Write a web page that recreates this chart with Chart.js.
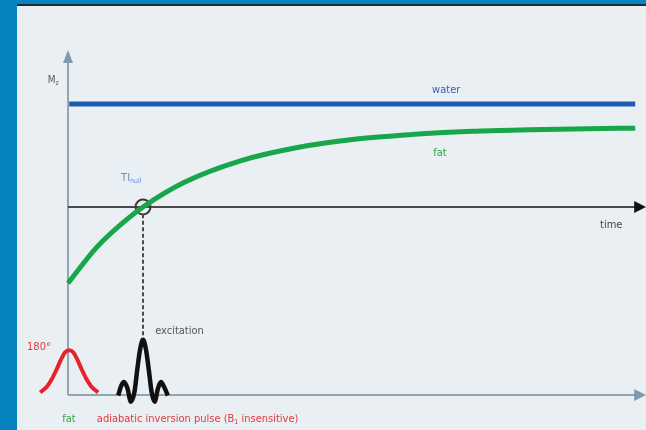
<!DOCTYPE html>
<html>
<head>
<meta charset="utf-8">
<script src="https://cdn.jsdelivr.net/npm/chart.js@4.4.1/dist/chart.umd.min.js"></script>
<style>
  html, body { margin: 0; padding: 0; }
  body { width: 646px; height: 430px; background: #0584c0; position: relative; overflow: hidden; }
  #panel { position: absolute; left: 17px; top: 4px; width: 629px; height: 426px;
           background: #eaeff4; border-top: 2px solid #1d2c3a; }
  #wrap { position: absolute; left: 0; top: 0; width: 629px; height: 424px; }
</style>
</head>
<body>
<div id="panel"><div id="wrap"><canvas id="grafica"></canvas></div></div>
<script>
// Datos (unidades arbitrarias: tiempo en x, magnetización Mz en y)
const waterT  = [0.2, 98.3];
const waterMz = [1, 1];

const fatT  = [0, 5, 10, 13, 20, 30, 40, 50, 60, 70, 80, 90, 98.3];
const fatMz = [-0.74, -0.39, -0.13, 0, 0.235, 0.45, 0.58, 0.66, 0.705, 0.735, 0.75, 0.76, 0.765];

// pulso de inversión adiabático (rojo)
const invT   = [-4.8, -3.6, -2.8, -2.0, -1.2, -0.5, 0.2, 0.9, 1.6, 2.4, 3.2, 4.0, 5.2];
const invAmp = [-1.80, -1.74, -1.67, -1.58, -1.48, -1.41, -1.39, -1.41, -1.48, -1.58, -1.67, -1.74, -1.80];

// pulso de excitación (negro)
const excT   = [8.7, 9.2, 9.7, 10.3, 10.9, 11.5, 12.0, 12.5, 13.0, 13.5, 14.0, 14.5, 15.0, 15.6, 16.1, 16.6, 17.3];
const excAmp = [-1.83, -1.74, -1.70, -1.76, -1.89, -1.80, -1.58, -1.38, -1.29, -1.38, -1.58, -1.80, -1.89, -1.76, -1.70, -1.74, -1.83];

const tiNull = 13;        // cruce de la grasa con cero
const dashEnd = -1.25;    // fin de la línea punteada
const baseLine = -1.825;  // eje inferior
const axisTop = 1.524;
const timeEnd = 100.2;

const pts = (xs, ys) => xs.map((x, i) => ({ x: x, y: ys[i] }));

const fuente = '"Liberation Sans Narrow", "DejaVu Sans Condensed", sans-serif';

const decor = {
    id: 'decor',
    beforeDatasetsDraw(chart) {
        const { ctx, scales: { x, y } } = chart;
        const x0 = x.getPixelForValue(0);
        ctx.save();
        // ejes gris azulado
        ctx.strokeStyle = '#8ea6b6';
        ctx.lineWidth = 2;
        ctx.beginPath();
        ctx.moveTo(x0, y.getPixelForValue(baseLine));
        ctx.lineTo(x0, y.getPixelForValue(axisTop) + 8);
        ctx.moveTo(x0, y.getPixelForValue(baseLine));
        ctx.lineTo(x.getPixelForValue(timeEnd) - 8, y.getPixelForValue(baseLine));
        ctx.stroke();
        // eje del tiempo
        ctx.strokeStyle = '#4a4a4a';
        ctx.beginPath();
        ctx.moveTo(x0, y.getPixelForValue(0));
        ctx.lineTo(x.getPixelForValue(timeEnd) - 8, y.getPixelForValue(0));
        ctx.stroke();
        ctx.restore();
    },
    afterDatasetsDraw(chart) {
        const { ctx, scales: { x, y } } = chart;
        const x0 = x.getPixelForValue(0);
        const xe = x.getPixelForValue(timeEnd);
        ctx.save();
        // flechas
        ctx.fillStyle = '#7f9aab';
        let ty = y.getPixelForValue(axisTop);
        ctx.beginPath();
        ctx.moveTo(x0, ty); ctx.lineTo(x0 - 5, ty + 13); ctx.lineTo(x0 + 5, ty + 13);
        ctx.fill();
        let by = y.getPixelForValue(baseLine);
        ctx.beginPath();
        ctx.moveTo(xe, by); ctx.lineTo(xe - 12, by - 6); ctx.lineTo(xe - 12, by + 6);
        ctx.fill();
        ctx.fillStyle = '#111';
        let zy = y.getPixelForValue(0);
        ctx.beginPath();
        ctx.moveTo(xe, zy); ctx.lineTo(xe - 12, zy - 6); ctx.lineTo(xe - 12, zy + 6);
        ctx.fill();

        // textos
        ctx.textBaseline = 'middle';
        ctx.textAlign = 'left';
        const texto = (t, vx, vy, color, size) => {
            ctx.font = size + 'px ' + fuente;
            ctx.fillStyle = color;
            ctx.fillText(t, x.getPixelForValue(vx), y.getPixelForValue(vy));
            return x.getPixelForValue(vx) + ctx.measureText(t).width;
        };
        let px = texto('M', -3.5, 1.233, '#555', 10);
        ctx.font = '7px ' + fuente;
        ctx.fillText('z', px, y.getPixelForValue(1.233) + 3);
        texto('water', 63.1, 1.136, '#2f62b3', 11);
        texto('fat', 63.3, 0.524, '#2aa84a', 11);
        texto('time', 92.2, -0.175, '#444', 11);
        px = texto('TI', 9.2, 0.28, '#6a8fd0', 11);
        ctx.font = '7px ' + fuente;
        ctx.fillText('null', px, y.getPixelForValue(0.28) + 3);
        texto('excitation', 15.1, -1.204, '#555', 11);
        texto('180°', -7.1, -1.359, '#e03a3a', 11);
        texto('fat', -1.0, -2.058, '#2aa84a', 11);
        px = texto('adiabatic inversion pulse (B', 5.0, -2.058, '#e03a3a', 11);
        ctx.font = '7px ' + fuente;
        ctx.fillText('1', px, y.getPixelForValue(-2.058) + 3);
        const w1 = ctx.measureText('1').width;
        ctx.font = '11px ' + fuente;
        ctx.fillText(' insensitive)', px + w1, y.getPixelForValue(-2.058));
        ctx.restore();
    }
};

const ctx = document.getElementById('grafica').getContext('2d');
new Chart(ctx, {
    type: 'line',
    data: {
        datasets: [
            {
                label: 'water',
                data: pts(waterT, waterMz),
                borderColor: '#1b5cad',
                borderWidth: 5,
                pointRadius: 0
            },
            {
                label: 'fat',
                data: pts(fatT, fatMz),
                borderColor: '#17a649',
                borderWidth: 5,
                pointRadius: 0,
                cubicInterpolationMode: 'monotone'
            },
            {
                label: 'dashed',
                data: pts([tiNull, tiNull], [-0.07, dashEnd]),
                borderColor: '#4a4a4a',
                borderWidth: 2,
                borderDash: [4, 2.5],
                pointRadius: 0
            },
            {
                label: 'TI null',
                data: pts([tiNull], [0]),
                showLine: false,
                pointRadius: 7.5,
                pointBorderWidth: 2,
                pointBorderColor: '#3a3a3a',
                pointBackgroundColor: 'rgba(0,0,0,0)'
            },
            {
                label: 'inversion',
                data: pts(invT, invAmp),
                borderColor: '#e8222a',
                borderWidth: 4,
                pointRadius: 0,
                cubicInterpolationMode: 'monotone'
            },
            {
                label: 'excitation',
                data: pts(excT, excAmp),
                borderColor: '#111',
                borderWidth: 4.5,
                pointRadius: 0,
                cubicInterpolationMode: 'monotone'
            }
        ]
    },
    options: {
        responsive: true,
        maintainAspectRatio: false,
        animation: false,
        layout: { padding: 0, autoPadding: false },
        plugins: {
            legend: { display: false },
            tooltip: { enabled: false }
        },
        scales: {
            x: { type: 'linear', min: -8.84, max: 100.17, display: false },
            y: { type: 'linear', min: -2.165, max: 1.951, display: false }
        }
    },
    plugins: [decor]
});
</script>
</body>
</html>
